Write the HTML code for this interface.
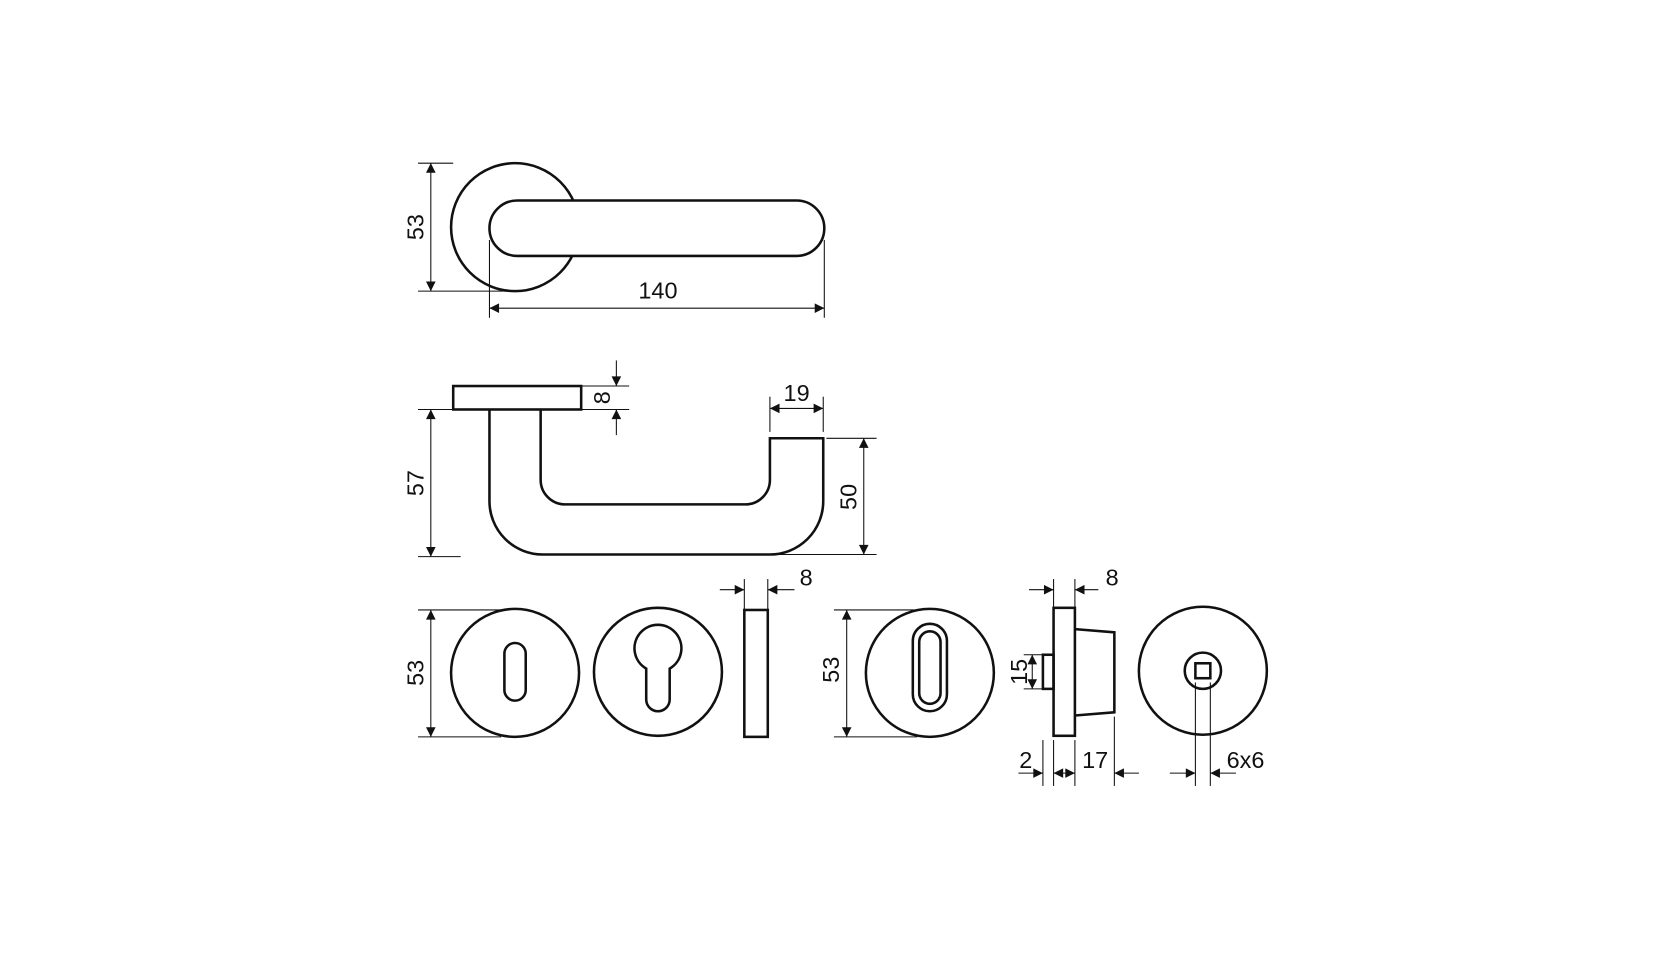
<!DOCTYPE html>
<html><head><style>html,body{margin:0;padding:0;background:#fff}svg{display:block}</style></head>
<body>
<svg width="1671" height="972" viewBox="0 0 1567 911.5" preserveAspectRatio="none" xmlns="http://www.w3.org/2000/svg">
<defs>
<marker id="a" viewBox="0 0 10 10" refX="10" refY="5" markerWidth="16" markerHeight="9" markerUnits="userSpaceOnUse" orient="auto-start-reverse"><path d="M0,0 L10,5 L0,10 z" fill="#111"/></marker>
</defs>
<g fill="none" stroke="#111" stroke-width="2.4">
<circle cx="483" cy="213" r="60"/>
<rect x="459" y="188" width="314" height="52" rx="26" fill="#fff"/>
</g>
<g fill="none" stroke="#111" stroke-width="1">
<line x1="392" y1="153" x2="425" y2="153"/><line x1="392" y1="273" x2="480" y2="273"/>
<line x1="404" y1="153" x2="404" y2="273" marker-start="url(#a)" marker-end="url(#a)"/>
<line x1="459" y1="225" x2="459" y2="298"/><line x1="773" y1="225" x2="773" y2="298"/>
<line x1="459" y1="289" x2="773" y2="289" marker-start="url(#a)" marker-end="url(#a)"/>
</g>
<g fill="none" stroke="#111" stroke-width="2.4">
<rect x="425" y="362" width="120" height="22"/>
<path d="M459,384 V470 A50,50 0 0 0 509,520 H722 A50,50 0 0 0 772,470 V411 H722 V450 A23,23 0 0 1 699,473 H530 A23,23 0 0 1 507,450 V384"/>
</g>
<g fill="none" stroke="#111" stroke-width="1">
<line x1="545" y1="362" x2="590" y2="362"/><line x1="545" y1="384" x2="590" y2="384"/>
<line x1="578" y1="338" x2="578" y2="362" marker-end="url(#a)"/>
<line x1="578" y1="408" x2="578" y2="384" marker-end="url(#a)"/>
<line x1="392" y1="384" x2="440" y2="384"/><line x1="392" y1="522" x2="432" y2="522"/>
<line x1="404" y1="384" x2="404" y2="522" marker-start="url(#a)" marker-end="url(#a)"/>
<line x1="722" y1="372" x2="722" y2="405"/><line x1="772" y1="372" x2="772" y2="405"/>
<line x1="722" y1="383" x2="772" y2="383" marker-start="url(#a)" marker-end="url(#a)"/>
<line x1="775" y1="411" x2="822" y2="411"/><line x1="700" y1="520" x2="822" y2="520"/>
<line x1="810" y1="411" x2="810" y2="520" marker-start="url(#a)" marker-end="url(#a)"/>
</g>
<g fill="none" stroke="#111" stroke-width="2.4">
<circle cx="483" cy="631" r="60"/>
<rect x="473" y="603" width="20" height="54" rx="10"/>
<circle cx="617" cy="630" r="60"/>
<path d="M606,627 A22,22 0 1 1 628,627 V656 A11,11 0 0 1 606,656 Z"/>
<rect x="698" y="572" width="22" height="119"/>
<circle cx="872" cy="631" r="60"/>
<rect x="856" y="585" width="32" height="82" rx="16"/>
<rect x="862" y="592" width="20" height="68" rx="10"/>
<rect x="978" y="614" width="10" height="32"/>
<rect x="988" y="570" width="20" height="120"/>
<path d="M1008,590 L1045,593 V668 L1008,671"/>
<circle cx="1128" cy="629" r="60"/>
<circle cx="1128" cy="629" r="17"/>
<rect x="1121" y="622" width="14" height="14"/>
</g>
<g fill="none" stroke="#111" stroke-width="1">
<line x1="698" y1="543" x2="698" y2="572"/><line x1="720" y1="543" x2="720" y2="572"/>
<line x1="675" y1="553" x2="698" y2="553" marker-end="url(#a)"/>
<line x1="745" y1="553" x2="720" y2="553" marker-end="url(#a)"/>
<line x1="392" y1="572" x2="470" y2="572"/><line x1="392" y1="691" x2="470" y2="691"/>
<line x1="404" y1="572" x2="404" y2="691" marker-start="url(#a)" marker-end="url(#a)"/>
<line x1="782" y1="572" x2="860" y2="572"/><line x1="782" y1="691" x2="860" y2="691"/>
<line x1="794" y1="572" x2="794" y2="691" marker-start="url(#a)" marker-end="url(#a)"/>
<line x1="988" y1="543" x2="988" y2="570"/><line x1="1008" y1="543" x2="1008" y2="570"/>
<line x1="965" y1="553" x2="988" y2="553" marker-end="url(#a)"/>
<line x1="1030" y1="553" x2="1008" y2="553" marker-end="url(#a)"/>
<line x1="960" y1="614" x2="978" y2="614"/><line x1="960" y1="646" x2="978" y2="646"/>
<line x1="968" y1="614" x2="968" y2="646" marker-start="url(#a)" marker-end="url(#a)"/>
<line x1="978" y1="694" x2="978" y2="737"/><line x1="988" y1="694" x2="988" y2="737"/>
<line x1="1008" y1="694" x2="1008" y2="737"/><line x1="1045" y1="672" x2="1045" y2="737"/>
<line x1="955" y1="725" x2="978" y2="725" marker-end="url(#a)"/>
<line x1="988" y1="725" x2="1008" y2="725" marker-start="url(#a)" marker-end="url(#a)"/>
<line x1="1068" y1="725" x2="1045" y2="725" marker-end="url(#a)"/>
<line x1="1121" y1="640" x2="1121" y2="737"/><line x1="1135" y1="640" x2="1135" y2="737"/>
<line x1="1097" y1="725" x2="1121" y2="725" marker-end="url(#a)"/>
<line x1="1159" y1="725" x2="1135" y2="725" marker-end="url(#a)"/>
</g>
<g font-family="Liberation Sans, sans-serif" font-size="22" fill="#111" text-anchor="middle">
<text x="617" y="280">140</text>
<text x="747" y="376">19</text>
<text x="756" y="549">8</text>
<text x="1043" y="549">8</text>
<text x="962" y="720">2</text>
<text x="1027" y="720">17</text>
<text x="1168" y="720">6x6</text>
<text transform="translate(397,213) rotate(-90)">53</text>
<text transform="translate(397,453) rotate(-90)">57</text>
<text transform="translate(572,373) rotate(-90)">8</text>
<text transform="translate(803,466) rotate(-90)">50</text>
<text transform="translate(397,631) rotate(-90)">53</text>
<text transform="translate(787,628) rotate(-90)">53</text>
<text transform="translate(963,630) rotate(-90)">15</text>
</g>
</svg>
</body></html>
